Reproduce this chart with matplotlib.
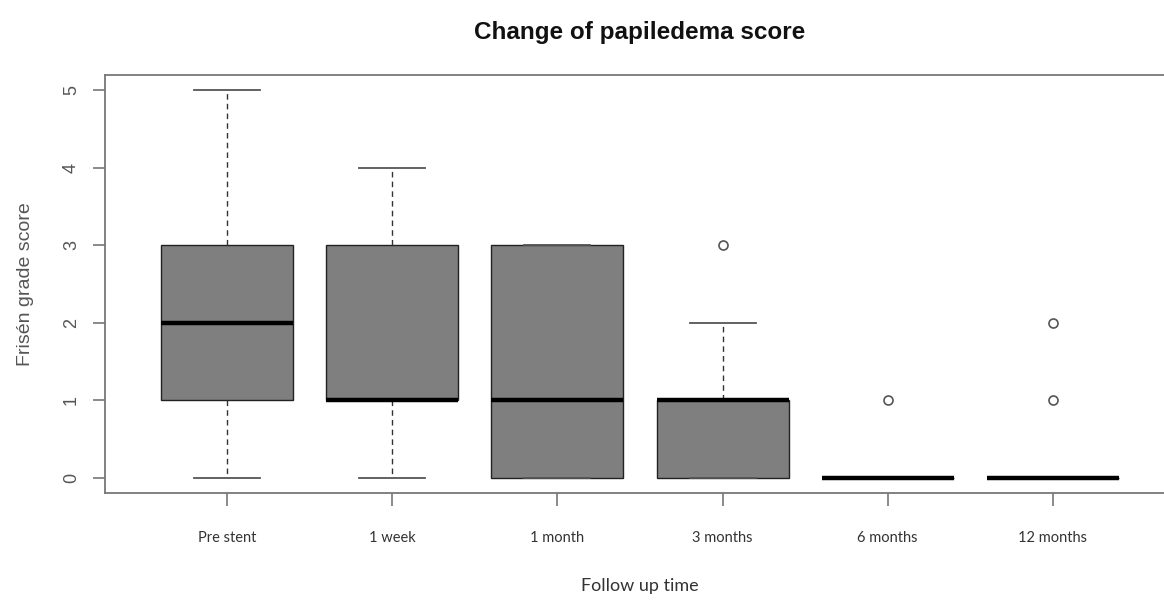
import matplotlib
matplotlib.use('Agg')
import matplotlib.pyplot as plt

# ── Data (box statistics) ───────────────────────────────────────────────────
categories = ['Pre stent', '1 week', '1 month', '3 months', '6 months', '12 months']
whisker_low = [0, 0, 0, 0, 0, 0]
q1 = [1, 1, 0, 0, 0, 0]
median = [2, 1, 1, 1, 0, 0]
q3 = [3, 3, 3, 1, 0, 0]
whisker_high = [5, 4, 3, 2, 0, 0]
outliers = [[], [], [], [3], [1], [1, 2]]

stats = []
for i, name in enumerate(categories):
    stats.append({
        'label': name,
        'whislo': whisker_low[i],
        'q1': q1[i],
        'med': median[i],
        'q3': q3[i],
        'whishi': whisker_high[i],
        'fliers': outliers[i],
    })

# ── Figure ──────────────────────────────────────────────────────────────────
fig = plt.figure(figsize=(11.64, 6), dpi=100)
fig.patch.set_facecolor('white')
ax = fig.add_axes([105 / 1164, 1 - 493 / 600, 1070 / 1164, 418 / 600])

ax.bxp(
    stats,
    positions=range(1, len(categories) + 1),
    widths=0.8,
    patch_artist=True,
    showfliers=True,
    boxprops=dict(facecolor='#7f7f7f', edgecolor='#222222', linewidth=1.0),
    medianprops=dict(color='black', linewidth=3.2, solid_capstyle='butt'),
    whiskerprops=dict(color='#333333', linewidth=1.0, linestyle=(0, (4, 3))),
    capprops=dict(color='#555555', linewidth=1.3),
    capwidths=0.4,
    flierprops=dict(marker='o', markersize=6.5, markerfacecolor='white',
                    markeredgecolor='#555555', markeredgewidth=1.2),
)

ax.set_xlim(0.26, 6.74)
ax.set_ylim(-0.2, 5.2)

for side in ['top', 'bottom', 'left', 'right']:
    ax.spines[side].set_color('#777777')
    ax.spines[side].set_linewidth(1.3)

ax.set_yticks([0, 1, 2, 3, 4, 5])
ax.set_yticklabels(['0', '1', '2', '3', '4', '5'], rotation=90, va='center',
                   color='#555555', fontsize=13, family='Liberation Sans')
ax.tick_params(axis='y', length=9, width=1.2, colors='#777777', labelcolor='#555555', pad=9)

ax.set_xticks(range(1, len(categories) + 1))
ax.set_xticklabels(categories, fontsize=10.5, color='#333333', family='Lato')
ax.tick_params(axis='x', length=9, width=1.2, colors='#777777', labelcolor='#333333', pad=18)

ax.set_ylabel('Frisén grade score', fontsize=14, color='#555555',
              family='Liberation Sans', labelpad=21)

# x axis title sits low, close to the bottom edge as in the original
fig.text(640 / 1164, 1 - 586 / 600, 'Follow up time', ha='center', va='center',
         fontsize=13, color='#333333', family='Lato')

fig.text(640 / 1164, 1 - 33 / 600, 'Change of papiledema score', ha='center', va='center',
         fontsize=17.5, fontweight='bold', color='#111111', family='Liberation Sans')

fig.savefig('out.png', dpi=100, facecolor='white')
